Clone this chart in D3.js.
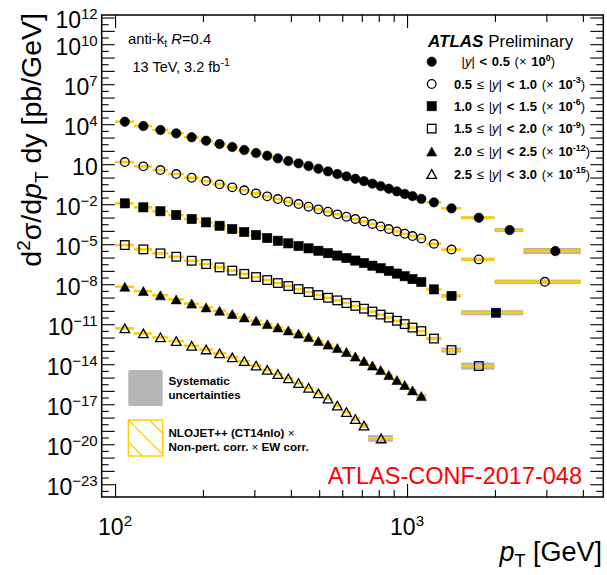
<!DOCTYPE html>
<html>
<head>
<meta charset="utf-8">
<script src="https://cdn.jsdelivr.net/npm/d3@7"></script>
<style>
  html, body { margin: 0; padding: 0; background: #fff; }
  svg text { font-family: "Liberation Sans", Arial, Helvetica, sans-serif; white-space: pre; }
</style>
</head>
<body>
<svg id="chart" width="607" height="575"></svg>
<script>
// Jet transverse-momentum bin edges [GeV]
const ptEdges = [100, 116, 134, 152, 172, 194, 216, 240, 264, 290, 318, 346, 376, 408, 442, 478,
  516, 556, 598, 642, 688, 736, 786, 838, 894, 952, 1012, 1076, 1162, 1310, 1530, 1992, 2500, 3937];

// Rapidity slices and the power of ten each slice is multiplied by
const rapidityEdges = [0.0, 0.5, 1.0, 1.5, 2.0, 2.5, 3.0];
const scaleExponents = [0, -3, -6, -9, -12, -15];

// Standard bins used per slice, and the upper edge of a merged last bin
const regularBins = [33, 31, 30, 31, 28, 21];
const mergedUpperEdge = [null, 3937, 2500, null, null, 894];

// Measured d2sigma/dpT dy [pb/GeV], unscaled
const xsecY00 = [1.53e4, 7.29e3, 3.66e3, 2.07e3, 1.04e3, 577, 326, 194, 116, 68.9, 43.2, 27.5, 17.3,
  11.6, 7.29, 4.57, 2.92, 1.83, 1.23, 0.813, 0.537, 0.348, 0.226, 0.145, 0.0923, 0.0589, 0.0403,
  0.0252, 0.0138, 4.89e-3, 9.64e-4, 1.15e-4, 3.06e-6];
const xsecY05 = [1.45e4, 6.9e3, 3.66e3, 1.83e3, 966, 546, 309, 184, 110, 65.3, 38.9, 24.4, 15.3,
  10.3, 6.44, 4.11, 2.72, 1.73, 1.15, 0.771, 0.509, 0.330, 0.215, 0.137, 0.0904, 0.0608, 0.0408,
  0.0270, 0.0106, 3.97e-3, 7.29e-4, 1.52e-5];
const xsecY10 = [1.16e4, 5.81e3, 2.95e3, 1.54e3, 771, 436, 242, 137, 81.7, 48.5, 28.9, 18.2, 11.6,
  7.26, 4.89, 3.23, 2.13, 1.41, 0.914, 0.593, 0.385, 0.246, 0.157, 0.100, 0.0628, 0.0394, 0.0243,
  0.0147, 4.10e-3, 1.33e-3, 7.19e-5];
const xsecY15 = [8.63e3, 4.11e3, 2.06e3, 1.15e3, 574, 324, 183, 105, 59.7, 34.4, 20.5, 12.2, 7.24,
  4.32, 2.57, 1.53, 0.962, 0.614, 0.385, 0.237, 0.146, 0.0885, 0.0527, 0.0314, 0.0181, 0.0102,
  5.58e-3, 3.05e-3, 8.36e-4, 1.15e-4, 7.23e-6];
const xsecY20 = [6.43e3, 3.05e3, 1.46e3, 729, 353, 183, 102, 57.5, 32.5, 18.1, 10.2, 5.78, 3.44,
  1.98, 1.08, 0.542, 0.296, 0.162, 0.0811, 0.0373, 0.0171, 7.87e-3, 3.62e-3, 1.53e-3, 6.44e-4,
  2.72e-4, 1.09e-4, 4.06e-5];
const xsecY25 = [4.86e3, 2.05e3, 1.03e3, 542, 241, 129, 64.9, 32.5, 17.1, 7.87, 3.75, 1.82, 0.863,
  0.384, 0.168, 0.0647, 0.0264, 7.87e-3, 2.56e-3, 7.64e-4, 2.48e-4, 2.72e-5];

// Systematic uncertainty [%] for the highest-pT bins of each slice (aligned to the last bins)
const sysTailY00 = [30, 40, 70];
const sysTailY05 = [35, 45];
const sysTailY10 = [35, 55];
const sysTailY15 = [35, 55, 85];
const sysTailY20 = [30, 45];
const sysTailY25 = [35, 45, 80];

// Axis ranges and tick labels
const xDomain = [90, 4700];
const yDomain = [1.1e-24, 1.55e12];
const xLabelExponents = [2, 3];
const yLabelExponents = [12, 10, 7, 4, 1, -2, -5, -8, -11, -14, -17, -20, -23];

const xsecs = [xsecY00, xsecY05, xsecY10, xsecY15, xsecY20, xsecY25];
const sysTails = [sysTailY00, sysTailY05, sysTailY10, sysTailY15, sysTailY20, sysTailY25];
const markerShape = ["circle", "circle", "square", "square", "triangle", "triangle"];
const markerFilled = [true, false, true, false, true, false];

const frame = { left: 101.7, right: 603.3, top: 15, bottom: 497 };
const YELLOW = "#ffcc00";
const GREY = "#b5b5b5";

const svg = d3.select("#chart");
const x = d3.scaleLog().domain(xDomain).range([frame.left, frame.right]);
const y = d3.scaleLog().domain(yDomain).range([frame.bottom, frame.top]);

// ---- marker drawing -------------------------------------------------------
function marker(g, shape, filled, cx, cy) {
  const fill = filled ? "#000" : "none";
  const sw = filled ? 0.6 : 1.3;
  if (shape === "circle") {
    g.append("circle").attr("cx", cx).attr("cy", cy).attr("r", filled ? 4.7 : 4.3)
      .attr("fill", fill).attr("stroke", "#000").attr("stroke-width", sw);
  } else if (shape === "square") {
    const s = filled ? 9.2 : 8.6;
    g.append("rect").attr("x", cx - s / 2).attr("y", cy - s / 2).attr("width", s).attr("height", s)
      .attr("fill", fill).attr("stroke", "#000").attr("stroke-width", sw);
  } else {
    const s = filled ? 10 : 9.6, h = s * 0.9;
    g.append("path")
      .attr("d", `M${cx},${cy - h / 2}L${cx + s / 2},${cy + h / 2}L${cx - s / 2},${cy + h / 2}Z`)
      .attr("fill", fill).attr("stroke", "#000").attr("stroke-width", sw).attr("stroke-linejoin", "miter");
  }
}

// ---- data ---------------------------------------------------------------
const plot = svg.append("g");
const sysLayer = plot.append("g");
const theoryLayer = plot.append("g");
const markerLayer = plot.append("g");

xsecs.forEach((vals, i) => {
  const edges = ptEdges.slice(0, regularBins[i] + 1);
  if (mergedUpperEdge[i] !== null) edges.push(mergedUpperEdge[i]);
  const factor = Math.pow(10, scaleExponents[i]);
  const bins = vals.map((v, j) => ({
    lo: edges[j], hi: edges[j + 1], centre: (edges[j] + edges[j + 1]) / 2, value: v * factor
  }));
  const tail = sysTails[i];
  const first = bins.length - tail.length;
  // systematic uncertainty boxes
  tail.forEach((pct, k) => {
    const b = bins[first + k];
    const f = 1 + pct / 100;
    sysLayer.append("rect")
      .attr("x", x(b.lo)).attr("width", x(b.hi) - x(b.lo))
      .attr("y", y(b.value * f)).attr("height", y(b.value / f) - y(b.value * f))
      .attr("fill", GREY);
  });
  // NLO prediction per bin
  theoryLayer.selectAll(null).data(bins).join("line")
    .attr("x1", d => x(d.lo)).attr("x2", d => x(d.hi))
    .attr("y1", d => y(d.value)).attr("y2", d => y(d.value))
    .attr("stroke", YELLOW).attr("stroke-width", 2.6);
  bins.forEach(b => marker(markerLayer, markerShape[i], markerFilled[i], x(b.centre), y(b.value)));
});

// ---- axes ---------------------------------------------------------------
const xMajor = [100, 1000];
const xMinor = [200, 300, 400, 500, 600, 700, 800, 900, 2000, 3000, 4000];
const yMajor = d3.range(-24, 13).map(k => Math.pow(10, k)).filter(v => v >= yDomain[0] && v <= yDomain[1]);
const yMinor = d3.range(-24, 13).map(k => Math.pow(10, k + 0.5)).filter(v => v >= yDomain[0] && v <= yDomain[1]);

function addAxis(gen, vals, len, tr) {
  const g = svg.append("g").attr("transform", tr)
    .call(gen.tickValues(vals).tickSizeInner(-len).tickSizeOuter(0).tickFormat(""));
  g.select(".domain").remove();
  g.selectAll(".tick line").attr("stroke", "#000").attr("stroke-width", 1.1);
}
addAxis(d3.axisBottom(x), xMajor, 13, `translate(0,${frame.bottom})`);
addAxis(d3.axisBottom(x), xMinor, 7, `translate(0,${frame.bottom})`);
addAxis(d3.axisTop(x), xMajor, 13, `translate(0,${frame.top})`);
addAxis(d3.axisTop(x), xMinor, 7, `translate(0,${frame.top})`);
addAxis(d3.axisLeft(y), yMajor, 13, `translate(${frame.left},0)`);
addAxis(d3.axisLeft(y), yMinor, 7, `translate(${frame.left},0)`);
addAxis(d3.axisRight(y), yMajor, 13, `translate(${frame.right},0)`);
addAxis(d3.axisRight(y), yMinor, 7, `translate(${frame.right},0)`);

svg.append("rect")
  .attr("x", frame.left).attr("y", frame.top)
  .attr("width", frame.right - frame.left).attr("height", frame.bottom - frame.top)
  .attr("fill", "none").attr("stroke", "#000").attr("stroke-width", 1.5);

function powerLabel(sel, exp) {
  sel.append("tspan").text("10");
  if (exp !== 1) {
    sel.append("tspan").attr("dy", -9).attr("font-size", 15)
      .text(String(exp).replace("-", "\u2212"));
  }
}
yLabelExponents.forEach(e => {
  const t = svg.append("text").attr("x", frame.left - 4).attr("y", y(Math.pow(10, e)) + 10.5)
    .attr("text-anchor", "end").attr("font-size", 23).attr("fill", "#000");
  powerLabel(t, e);
});
xLabelExponents.forEach(e => {
  const t = svg.append("text").attr("x", x(Math.pow(10, e))).attr("y", 535)
    .attr("text-anchor", "middle").attr("font-size", 23).attr("fill", "#000");
  powerLabel(t, e);
});

// axis titles
const yt = svg.append("text").attr("transform", `translate(41,13) rotate(-90)`)
  .attr("text-anchor", "end").attr("font-size", 28.5).attr("fill", "#000");
yt.append("tspan").text("d");
yt.append("tspan").attr("dy", -11).attr("font-size", 19).text("2");
yt.append("tspan").attr("dy", 11).text("\u03c3/d");
yt.append("tspan").attr("font-style", "italic").text("p");
yt.append("tspan").attr("dy", 7).attr("font-size", 19).text("T");
yt.append("tspan").attr("dy", -7).text(" dy [pb/GeV]");

const xt = svg.append("text").attr("x", 602).attr("y", 561)
  .attr("text-anchor", "end").attr("font-size", 27).attr("fill", "#000");
xt.append("tspan").attr("font-style", "italic").text("p");
xt.append("tspan").attr("dy", 6).attr("font-size", 18).text("T");
xt.append("tspan").attr("dy", -6).text(" [GeV]");

// ---- annotations --------------------------------------------------------
const a1 = svg.append("text").attr("x", 128).attr("y", 43.5).attr("font-size", 14.8).attr("fill", "#000");
a1.append("tspan").text("anti-k");
a1.append("tspan").attr("dy", 3).attr("font-size", 10.5).text("t");
a1.append("tspan").attr("dy", -3).text(" ");
a1.append("tspan").attr("font-style", "italic").text("R");
a1.append("tspan").text("=0.4");

const a2 = svg.append("text").attr("x", 132.5).attr("y", 71.7).attr("font-size", 14.5).attr("fill", "#000");
a2.append("tspan").text("13 TeV, 3.2 fb");
a2.append("tspan").attr("dy", -6).attr("font-size", 10.5).text("-1");

const atl = svg.append("text").attr("x", 428).attr("y", 47.3).attr("font-size", 17).attr("fill", "#000");
atl.append("tspan").attr("font-weight", "bold").attr("font-style", "italic").text("ATLAS");
atl.append("tspan").text(" Preliminary");

// rapidity legend
const legendRowY = [61.7, 84, 106.2, 128.6, 151.5, 174];
rapidityEdges.slice(0, -1).forEach((lo, i) => {
  const hi = rapidityEdges[i + 1];
  const cy = legendRowY[i];
  marker(svg.append("g"), markerShape[i], markerFilled[i], 431.7, cy);
  const t = svg.append("text").attr("x", i === 0 ? 461.5 : 454).attr("y", cy + 4.5)
    .attr("font-size", 13).attr("word-spacing", 1.1).attr("fill", "#000");
  if (i > 0) {
    t.append("tspan").attr("font-weight", "bold").text(lo.toFixed(1) + " ");
    t.append("tspan").text("\u2264 ");
  }
  t.append("tspan").text("|");
  t.append("tspan").attr("font-style", "italic").text("y");
  t.append("tspan").text("| ");
  t.append("tspan").attr("font-weight", "bold").text("< " + hi.toFixed(1) + " ");
  t.append("tspan").text("(\u00d7 ");
  t.append("tspan").attr("font-weight", "bold").text("10");
  t.append("tspan").attr("dy", -5.5).attr("font-size", 9).attr("font-weight", "bold")
    .text(String(scaleExponents[i]));
  t.append("tspan").attr("dy", 5.5).text(")");
});

// uncertainty / prediction legend
svg.append("rect").attr("x", 128.3).attr("y", 370).attr("width", 34.4).attr("height", 36)
  .attr("rx", 1.5).attr("fill", GREY);
const s1 = svg.append("text").attr("x", 168.5).attr("font-size", 11.6).attr("font-weight", "bold").attr("fill", "#000");
s1.append("tspan").attr("x", 168.5).attr("y", 385).text("Systematic");
s1.append("tspan").attr("x", 168.5).attr("y", 399).text("uncertainties");

const hatch = svg.append("g");
hatch.append("clipPath").attr("id", "hatchClip")
  .append("rect").attr("x", 128.3).attr("y", 420).attr("width", 34.4).attr("height", 36);
const hg = hatch.append("g").attr("clip-path", "url(#hatchClip)");
[-22, 0, 21].forEach(off => {
  hg.append("line").attr("x1", 128.3 + off).attr("y1", 420).attr("x2", 128.3 + off + 40).attr("y2", 460)
    .attr("stroke", YELLOW).attr("stroke-width", 1.3);
});
hatch.append("rect").attr("x", 128.3).attr("y", 420).attr("width", 34.4).attr("height", 36)
  .attr("fill", "none").attr("stroke", YELLOW).attr("stroke-width", 1.4);
const s2 = svg.append("text").attr("font-size", 11.6).attr("font-weight", "bold").attr("fill", "#000");
s2.append("tspan").attr("x", 168.5).attr("y", 436.5).text("NLOJET++ (CT14nlo) ");
s2.append("tspan").attr("font-weight", "normal").text("\u00d7");
s2.append("tspan").attr("x", 168.5).attr("y", 450.5).text("Non-pert. corr. ");
s2.append("tspan").attr("font-weight", "normal").text("\u00d7");
s2.append("tspan").text(" EW corr.");

svg.append("text").attr("x", 582).attr("y", 484).attr("text-anchor", "end")
  .attr("font-size", 23.5).attr("fill", "#ff0000").text("ATLAS-CONF-2017-048");
</script>
</body>
</html>
